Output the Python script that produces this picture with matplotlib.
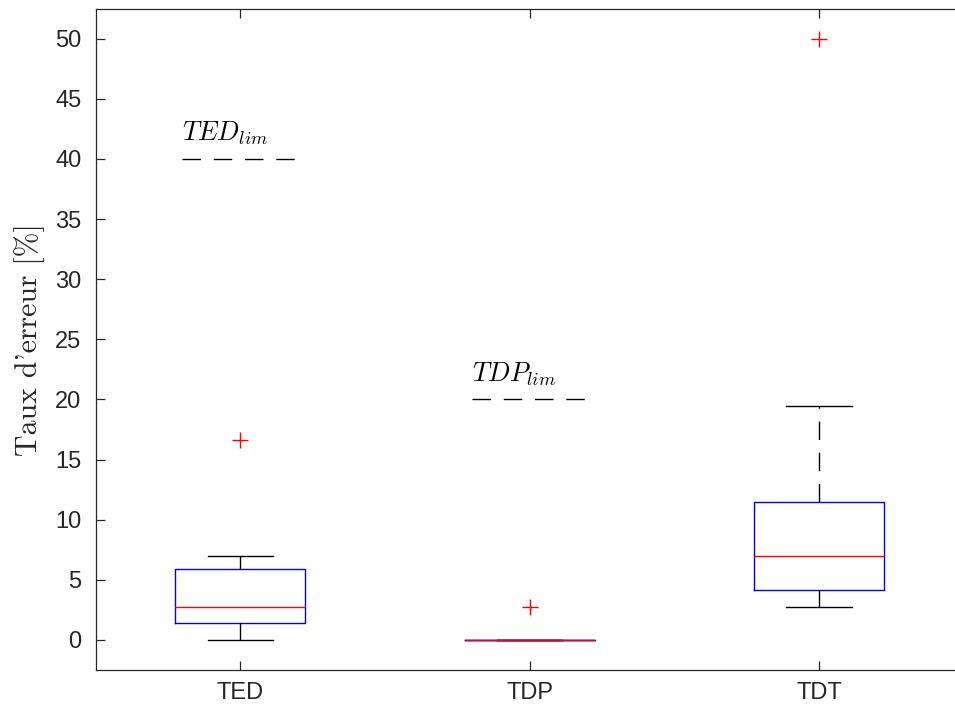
import matplotlib
matplotlib.use("Agg")
import matplotlib.pyplot as plt

plt.rcParams['mathtext.fontset'] = 'cm'
plt.rcParams['lines.scale_dashes'] = False

# ---- data ----
categories = ["TED", "TDP", "TDT"]
whisker_low = [0.0, 0.0, 2.78]
q1 = [1.39, 0.0, 4.17]
median = [2.78, 0.0, 6.94]
q3 = [5.90, 0.0, 11.45]
whisker_high = [6.94, 0.0, 19.44]
outliers = [[16.67], [2.78], [50.0]]

limit_labels = [r"$TED_{lim}$", r"$TDP_{lim}$"]
limit_values = [40, 20]
limit_positions = [1, 2]

yticks = [0, 5, 10, 15, 20, 25, 30, 35, 40, 45, 50]

# ---- figure ----
W, H = 955, 711
fig = plt.figure(figsize=(W / 100, H / 100), dpi=100)
left_px, right_px, top_px, bottom_px = 95.5, 963.75, 8.7, 670.0
ax = fig.add_axes([left_px / W, (H - bottom_px) / H,
                   (right_px - left_px) / W, (bottom_px - top_px) / H])

stats = []
for i, c in enumerate(categories):
    stats.append(dict(label=c, whislo=whisker_low[i], q1=q1[i], med=median[i],
                      q3=q3[i], whishi=whisker_high[i], fliers=outliers[i]))

dash = (13.3, 9.2)
lw = 1.0
ax.bxp(stats, positions=[1, 2, 3], widths=0.45, showfliers=True,
       boxprops=dict(color='#0000ff', linewidth=lw),
       medianprops=dict(color='#ff0000', linewidth=lw),
       whiskerprops=dict(color='black', linewidth=lw, linestyle=(0, dash)),
       capprops=dict(color='black', linewidth=lw),
       flierprops=dict(marker='+', markeredgecolor='#ff0000', markersize=11.5,
                       markeredgewidth=1.0, linestyle='none'))

for lab, val, pos in zip(limit_labels, limit_values, limit_positions):
    ax.plot([pos - 0.2, pos + 0.2], [val, val], color='black', linewidth=lw,
            linestyle=(0, dash))
    ax.text(pos - 0.2, val + 1.5, lab, fontsize=19, ha='left', va='baseline',
            color='black')

ax.set_xlim(0.5, 3.5)
ax.set_ylim(-2.5, 52.5)
ax.set_yticks(yticks)
ax.set_xticks([1, 2, 3])
ax.set_xticklabels(categories)

spine_color = '#262626'
for s in ax.spines.values():
    s.set_color(spine_color)
    s.set_linewidth(0.9)

ax.tick_params(axis='both', direction='in', length=6.5, width=0.9,
               colors=spine_color, labelsize=17, top=True, right=True)
ax.tick_params(axis='y', pad=10)
ax.tick_params(axis='x', pad=8.5)
for t in ax.get_xticklabels() + ax.get_yticklabels():
    t.set_fontfamily('Liberation Sans')

ax.set_ylabel("Taux d'erreur [%]", fontfamily='cmr10', fontsize=21.5, color=spine_color)
ax.yaxis.set_label_coords(-0.058, 0.5)

fig.savefig("out.png", dpi=100)
